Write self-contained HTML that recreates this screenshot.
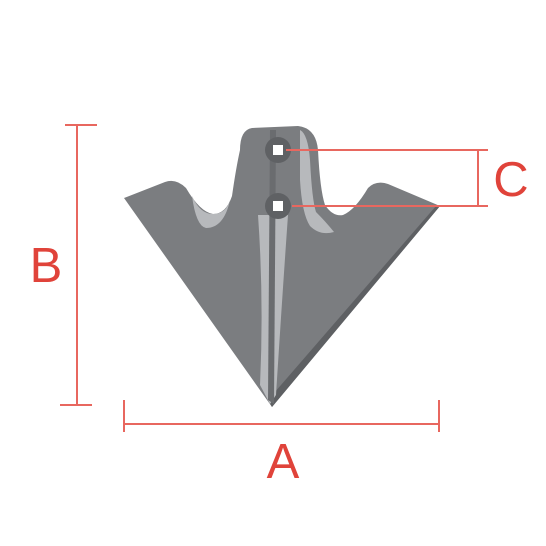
<!DOCTYPE html>
<html><head><meta charset="utf-8"><style>
html,body{margin:0;padding:0;background:#fff;}
svg{display:block;}
text{font-family:"Liberation Sans",sans-serif;fill:#e0433a;}
</style></head><body>
<svg width="546" height="546" viewBox="0 0 546 546">
<g>
<path d="M124,198 L165,182 Q176,178 186,188 Q200,212 213,214 Q226,214 232,196 Q236,168 240,150 Q240,130 252,128 L298,126 Q316,128 318,150 Q320,190 325,205 Q333,217 343,215 Q355,210 368,188 Q376,180 388,184 L440,206 L272,407 Z" fill="#7b7d80"/>
<path d="M440,206 L272,407 L268,400 L436,206 Z" fill="#5e6063"/>
<path d="M192,196 Q200,214 213,214 Q226,214 230,200 Q224,228 206,228 Q196,226 192,196 Z" fill="#b7b9bc"/>
<path d="M300,130 Q308,134 310,160 Q312,200 316,212 Q326,222 334,232 Q320,236 310,226 Q302,214 300,180 Z" fill="#b7b9bc"/>
<path d="M258,215 Q264,300 260,385 L270,404 L276,395 Q282,300 288,215 Z" fill="#b7b9bc"/>
<path d="M270,130 L268,400 L274,404 L276,130 Z" fill="#6a6c6f"/>
<circle cx="278" cy="150" r="13" fill="#5f6164"/>
<circle cx="278" cy="206" r="13" fill="#5f6164"/>
<rect x="273" y="145" width="10" height="10" fill="#fff"/>
<rect x="273" y="201" width="10" height="10" fill="#fff"/>
</g>
<g stroke="#e8675f" stroke-width="2" fill="none">
<g>
<line x1="77" y1="125" x2="77" y2="405"/><line x1="65" y1="125" x2="97" y2="125"/><line x1="60" y1="405" x2="92" y2="405"/>
</g>
<g>
<line x1="124" y1="424" x2="439" y2="424"/><line x1="124" y1="400" x2="124" y2="432"/><line x1="439" y1="400" x2="439" y2="432"/>
</g>
<g>
<line x1="286" y1="150" x2="488" y2="150"/><line x1="292" y1="206" x2="488" y2="206"/><line x1="478" y1="150" x2="478" y2="206"/>
</g>
</g>
<text x="46" y="282" font-size="49" text-anchor="middle">B</text>
<text x="283" y="478" font-size="49" text-anchor="middle">A</text>
<text x="511" y="196" font-size="49" text-anchor="middle">C</text>
</svg>
</body></html>
